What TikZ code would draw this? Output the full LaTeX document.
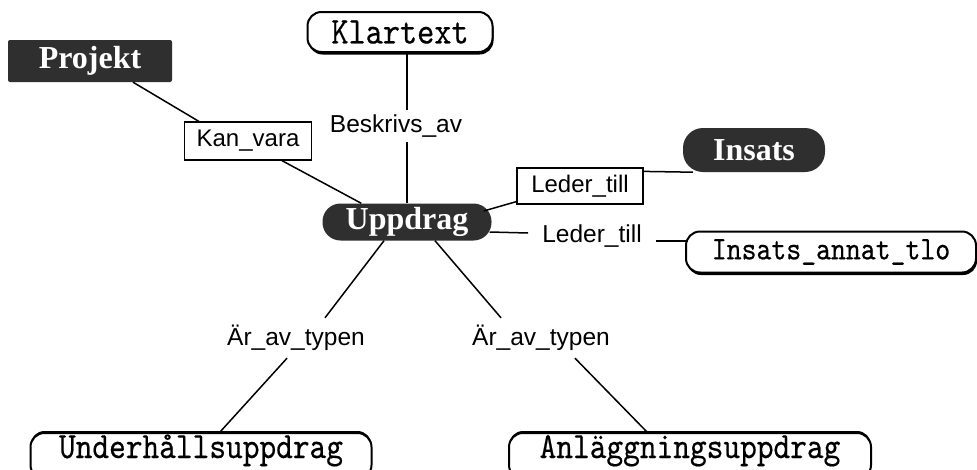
\documentclass[tikz,border=0pt]{standalone}
\usepackage{fontspec}
\setmainfont{Liberation Sans}
\newfontfamily\serifb{Liberation Serif}
\newfontfamily\monof{lmmono10-regular}[Extension=.otf, FakeStretch=0.86, FakeBold=0.4]
\usetikzlibrary{calc,shadows}
\definecolor{darkfill}{HTML}{2F2F2F}
\tikzset{
  conn/.style={line width=1.5pt, black},
  lightbox/.style={draw, line width=2pt, fill=white, rounded corners=14pt,
    inner sep=0pt, font=\monof\fontsize{38}{38}\selectfont},
  shadowdown/.style={general shadow={fill=black, shadow xshift=1pt, shadow yshift=-2.5pt}},
  shadowup/.style={general shadow={fill=black, shadow xshift=0pt, shadow yshift=2pt}},
  darkbox/.style={fill=darkfill, text=white, inner sep=0pt,
    font=\serifb\bfseries\fontsize{32}{32}\selectfont},
  relbox/.style={draw, line width=1.2pt, fill=white, inner sep=0pt,
    font=\fontsize{24}{24}\selectfont},
  rellabel/.style={inner sep=0pt, font=\fontsize{24.5}{24.5}\selectfont},
  bottombox/.style={lightbox, shadowup, font=\monof\fontsize{37}{37}\selectfont,
    text height=22pt, text depth=18pt, inner ysep=3pt, inner xsep=0pt, anchor=base},
}
\begin{document}
\begin{tikzpicture}[x=1pt, y=-1pt]
\useasboundingbox (0,0) rectangle (977,469);
\clip (0,0) rectangle (977,469);
\fill[white] (0,0) rectangle (977,469);

% nodes
\node[lightbox, shadowdown, minimum width=185pt, minimum height=40pt] (Klartext) at (400,32) {Klartext};
\node[darkbox, rounded corners=2pt, minimum width=164pt, minimum height=42pt] (Projekt) at (90,61) {Projekt};
\node[relbox, minimum width=127pt, minimum height=38pt] (Kan) at (248,141) {Kan\_vara};
\node[rellabel, minimum height=32pt] (Beskr) at (396,126) {Beskrivs\_av};
\node[darkbox, rounded corners=18pt, minimum width=169pt, minimum height=37pt] (Uppdrag) at (407,222) {Uppdrag};
\node[relbox, minimum width=126pt, minimum height=36pt] (LederB) at (580,186) {Leder\_till};
\node[darkbox, rounded corners=20pt, minimum width=142pt, minimum height=44pt] (Insats) at (754,150) {Insats};
\node[rellabel] (LederL) at (592,236) {Leder\_till};
\node[lightbox, shadowdown, minimum width=290pt, minimum height=41pt, font=\monof\fontsize{33}{33}\selectfont] (IAT) at (831,252) {Insats\_annat\_tlo};
\node[rellabel, minimum height=40pt] (L1) at (296,338) {Är\_av\_typen};
\node[rellabel, minimum height=40pt] (R2) at (541,338) {Är\_av\_typen};
\node[bottombox, minimum width=341pt] (U) at (201,458) {Underhållsuppdrag};
\node[bottombox, minimum width=362pt] (A) at (690,458) {Anläggningsuppdrag};

% connectors
\draw[conn] (Klartext.south -| Uppdrag.north) -- (Beskr.north -| Uppdrag.north);
\draw[conn] (Beskr.south -| Uppdrag.north) -- (Uppdrag.north);
\draw[conn] ($(Projekt.south)+(43,0)$) -- ($(Kan.north west)+(15,0)$);
\draw[conn] ($(Kan.south west)+(98,0)$) -- ($(Uppdrag.north west)+(39,0)$);
\draw[conn] ($(Uppdrag.east)+(-8,-11)$) -- ($(LederB.south west)+(0,-3)$);
\draw[conn] ($(LederB.north east)+(0,4)$) -- (Insats.200);
\draw[conn] ($(Uppdrag.east)+(-2,10)$) -- ($(LederL.west)+(-14,-3)$);
\draw[conn] ($(LederL.east)+(14,5)$) -- ($(IAT.west)+(3,-11)$);
\draw[conn] ($(Uppdrag.south)+(-23,0)$) -- ($(L1.north)+(29,0)$);
\draw[conn] ($(Uppdrag.south)+(28,0)$) -- ($(R2.north)+(-40,0)$);
\draw[conn] ($(L1.south)+(-9,0)$) -- ($(U.north)+(19,0)$);
\draw[conn] ($(R2.south)+(34,0)$) -- ($(A.north)+(-43,0)$);
\end{tikzpicture}
\end{document}
